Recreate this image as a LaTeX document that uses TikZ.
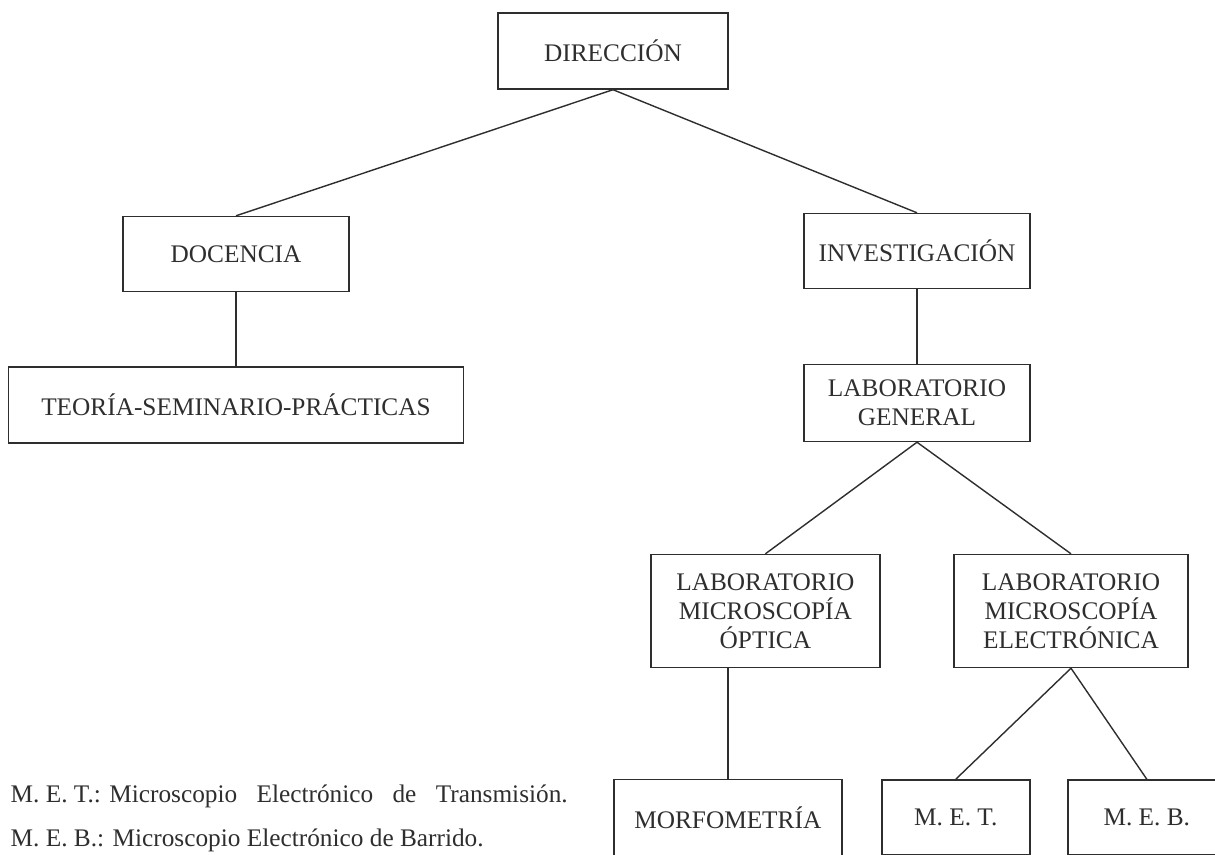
\documentclass[tikz,border=0pt]{standalone}
\usepackage{fontspec}
\setmainfont{Liberation Serif}
\usepackage{tikz}
\usetikzlibrary{positioning}
\definecolor{tinta}{HTML}{2E2E2E}

\begin{document}
\begin{tikzpicture}[on grid, color=tinta, line width=1pt, caja/.style={draw,align=center,inner sep=0pt,minimum height=1.9cm,font=\fontsize{18}{20.5}\selectfont}, ley/.style={inner sep=0pt,anchor=base west,font=\fontsize{18}{20}\selectfont}]
\useasboundingbox (-15.325,-20.075) rectangle (15.05,1.275);
\node[caja,minimum width=5.75cm] (dir) {DIRECCIÓN};
\node[caja,minimum width=5.65cm,minimum height=1.875cm,below left=5.075cm and 9.425cm of dir] (doc) {DOCENCIA};
\node[caja,minimum width=5.65cm,minimum height=1.875cm,below right=5.0cm and 7.6cm of dir] (inv) {INVESTIGACIÓN};
\node[caja,minimum width=11.375cm,below=3.775cm of doc] (teo) {TEORÍA-SEMINARIO-PRÁCTICAS};
\node[caja,minimum width=5.65cm,minimum height=1.925cm,below=3.8cm of inv] (gen) {LABORATORIO\\GENERAL};
\node[caja,minimum width=5.725cm,minimum height=2.825cm,below left=5.2cm and 3.79cm of gen] (opt) {LABORATORIO\\MICROSCOPÍA\\ÓPTICA};
\node[caja,minimum width=5.85cm,minimum height=2.825cm,right=7.64cm of opt] (ele) {LABORATORIO\\MICROSCOPÍA\\ELECTRÓNICA};
\node[caja,minimum width=5.7cm,below left=5.16cm and 0.94cm of opt] (mor) {MORFOMETRÍA};
\node[caja,minimum width=3.7cm,minimum height=1.875cm,right=5.7cm of mor] (met) {M. E. T.};
\node[caja,minimum width=3.95cm,minimum height=1.875cm,right=4.775cm of met] (meb) {M. E. B.};
\node[ley] (leyT) at (-15.075,-18.775) {\hbox to 13.925cm{M. E. T.: Microscopio\hfill\ Electrónico\hfill\ de\hfill\ Transmisión.}};
\node[ley] (leyB) at (-15.075,-19.88) {M. E. B.: Microscopio Electrónico de Barrido.};
\draw (dir.south)--(doc.north);
\draw (dir.south)--(inv.north);
\draw (doc.south)--(teo.north);
\draw (inv.south)--(gen.north);
\draw (gen.south)--(opt.north);
\draw (gen.south)--(ele.north);
\draw (mor.north |- opt.south)--(mor.north);
\draw (ele.south)--(met.north);
\draw (ele.south)--(meb.north);
\end{tikzpicture}
\end{document}
